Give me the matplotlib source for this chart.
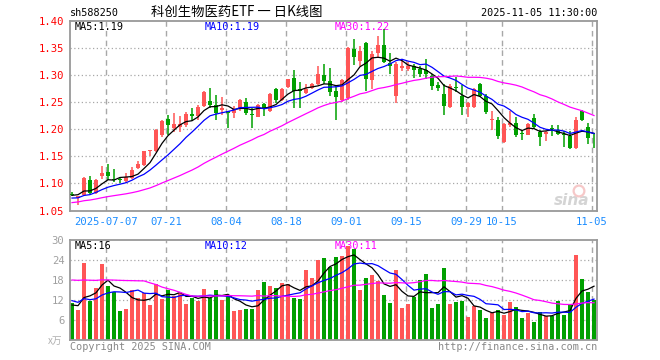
import numpy as np
import pandas as pd
import matplotlib
matplotlib.use('Agg')
import matplotlib.pyplot as plt

# daily K of sh588250, 2025-06-27 .. 2025-11-05 (88 trading days)
opens = [1.081, 1.073, 1.079, 1.107, 1.082, 1.113, 1.122, 1.109, 1.108, 1.104,
         1.110, 1.128, 1.134, 1.159, 1.160, 1.190, 1.219, 1.202, 1.204, 1.207,
         1.228, 1.224, 1.243, 1.252, 1.244, 1.236, 1.233, 1.230, 1.237, 1.250,
         1.229, 1.223, 1.246, 1.234, 1.274, 1.254, 1.278, 1.294, 1.274, 1.267,
         1.277, 1.284, 1.301, 1.290, 1.270, 1.255, 1.257, 1.349, 1.327, 1.359,
         1.291, 1.341, 1.355, 1.323, 1.262, 1.313, 1.312, 1.316, 1.311, 1.310,
         1.299, 1.282, 1.265, 1.241, 1.279, 1.262, 1.242, 1.242, 1.284, 1.262,
         1.217, 1.218, 1.177, 1.207, 1.211, 1.193, 1.190, 1.221, 1.195, 1.191,
         1.203, 1.199, 1.191, 1.187, 1.166, 1.233, 1.205, 1.177]
closes = [1.078, 1.076, 1.110, 1.083, 1.107, 1.120, 1.114, 1.107, 1.107, 1.111,
          1.125, 1.136, 1.159, 1.161, 1.198, 1.216, 1.207, 1.210, 1.210, 1.228,
          1.224, 1.242, 1.269, 1.245, 1.230, 1.240, 1.231, 1.237, 1.254, 1.231,
          1.227, 1.244, 1.239, 1.265, 1.254, 1.275, 1.292, 1.271, 1.270, 1.274,
          1.284, 1.302, 1.289, 1.268, 1.260, 1.291, 1.350, 1.333, 1.344, 1.293,
          1.339, 1.356, 1.325, 1.316, 1.321, 1.316, 1.316, 1.310, 1.302, 1.303,
          1.280, 1.276, 1.243, 1.280, 1.277, 1.242, 1.248, 1.274, 1.262, 1.232,
          1.218, 1.187, 1.209, 1.211, 1.190, 1.191, 1.210, 1.204, 1.185, 1.195,
          1.201, 1.191, 1.189, 1.166, 1.218, 1.218, 1.184, 1.176]
highs = [1.085, 1.077, 1.112, 1.114, 1.109, 1.132, 1.136, 1.126, 1.112, 1.119,
         1.130, 1.142, 1.160, 1.162, 1.200, 1.218, 1.227, 1.230, 1.224, 1.232,
         1.239, 1.244, 1.271, 1.277, 1.264, 1.260, 1.233, 1.243, 1.256, 1.257,
         1.239, 1.246, 1.249, 1.267, 1.277, 1.277, 1.293, 1.310, 1.288, 1.283,
         1.286, 1.316, 1.321, 1.313, 1.280, 1.293, 1.352, 1.367, 1.353, 1.362,
         1.344, 1.373, 1.385, 1.340, 1.325, 1.328, 1.325, 1.320, 1.316, 1.329,
         1.303, 1.287, 1.283, 1.283, 1.297, 1.282, 1.250, 1.276, 1.286, 1.265,
         1.233, 1.222, 1.212, 1.233, 1.222, 1.199, 1.212, 1.229, 1.199, 1.196,
         1.208, 1.208, 1.196, 1.196, 1.222, 1.236, 1.211, 1.193]
lows = [1.076, 1.060, 1.078, 1.081, 1.080, 1.108, 1.106, 1.102, 1.101, 1.100,
        1.108, 1.126, 1.133, 1.150, 1.158, 1.185, 1.190, 1.195, 1.195, 1.205,
        1.215, 1.218, 1.241, 1.240, 1.218, 1.227, 1.203, 1.221, 1.233, 1.226,
        1.203, 1.222, 1.225, 1.232, 1.249, 1.252, 1.277, 1.240, 1.240, 1.265,
        1.275, 1.282, 1.283, 1.262, 1.217, 1.251, 1.255, 1.319, 1.316, 1.270,
        1.274, 1.331, 1.322, 1.303, 1.249, 1.308, 1.307, 1.295, 1.296, 1.292,
        1.273, 1.271, 1.226, 1.239, 1.268, 1.227, 1.222, 1.240, 1.259, 1.228,
        1.199, 1.182, 1.175, 1.205, 1.185, 1.181, 1.189, 1.200, 1.169, 1.178,
        1.188, 1.190, 1.167, 1.164, 1.164, 1.216, 1.172, 1.165]
volumes = [11.2, 9.0, 23.2, 11.8, 15.6, 22.9, 16.2, 14.5, 8.7, 9.3,
           15.0, 12.6, 14.0, 10.5, 16.8, 12.3, 15.0, 13.3, 14.0, 10.8,
           12.6, 11.7, 15.3, 12.7, 15.0, 12.0, 13.5, 8.7, 9.0, 9.3,
           9.3, 15.0, 17.4, 16.2, 15.6, 17.1, 16.8, 12.6, 12.3, 21.0,
           18.6, 24.0, 24.6, 22.0, 25.0, 25.2, 28.2, 27.2, 15.0, 18.5,
           19.5, 17.7, 13.5, 11.2, 21.0, 9.6, 10.8, 12.8, 18.0, 19.8,
           9.6, 10.8, 21.6, 10.8, 11.5, 11.8, 6.9, 10.2, 9.0, 6.6,
           8.1, 9.0, 7.5, 11.4, 9.9, 6.6, 8.1, 5.5, 8.4, 7.2,
           7.2, 11.7, 7.5, 10.5, 25.5, 18.3, 14.4, 12.0]

# closes / volumes of the 29 sessions before the window
prior_close = [1.040, 1.042, 1.045, 1.048, 1.050, 1.052, 1.055, 1.057, 1.060, 1.062,
               1.063, 1.065, 1.066, 1.068, 1.070, 1.071, 1.072, 1.073, 1.074, 1.075,
               1.072, 1.066, 1.068, 1.065, 1.069, 1.070, 1.076, 1.082, 1.084]
prior_vol = [12, 20, 14, 17, 18, 17, 16, 11, 11, 16, 14, 15,
             28, 32, 35, 30, 27, 33, 29, 27,
             14, 12, 15, 13, 11.5, 10, 11, 9.3, 11]

date_pos = [6, 16, 26, 36, 46, 56, 66, 72, 87]
date_labels = ['2025-07-07', '07-21', '08-04', '08-18', '09-01',
               '09-15', '09-29', '10-15', '11-05']
price_ticks = [1.05, 1.10, 1.15, 1.20, 1.25, 1.30, 1.35, 1.40]
vol_ticks = [6, 12, 18, 24, 30]
ma_labels = ['MA5:1.19', 'MA10:1.19', 'MA30:1.22']
vma_labels = ['MA5:16', 'MA10:12', 'MA30:11']

RED = '#FF5656'
GREEN = '#00A000'
GRID = '#A8A8A8'
MONO = 'DejaVu Sans Mono'
MA_COLORS = ['black', '#0000FF', '#FF00FF']

n_pre = len(prior_close)
c_all = pd.Series(prior_close + closes)
v_all = pd.Series(prior_vol + volumes)
ma = [c_all.rolling(k).mean().values[n_pre:] for k in (5, 10, 30)]
vma = [v_all.rolling(k).mean().values[n_pre:] for k in (5, 10, 30)]

o = np.array(opens); c = np.array(closes)
x = np.arange(len(c))
up = c >= o
col = np.where(up, RED, GREEN)

W, H = 660, 360
fig = plt.figure(figsize=(W / 100, H / 100), dpi=100)


def px_axes(l, t, r, b):
    return fig.add_axes([l / W, 1 - b / H, (r - l) / W, (b - t) / H])


def ftext(px, py, s, **kw):
    kw.setdefault('family', MONO)
    kw.setdefault('fontsize', 7.3)
    return fig.text(px / W, 1 - py / H, s, va='center', **kw)


ax = px_axes(70, 21, 597, 210.5)
axv = px_axes(70, 240, 597, 340)

for a in (ax, axv):
    a.set_xlim(-1 / 3, 87.5)
    for s in a.spines.values():
        s.set_color('#999999')
        s.set_linewidth(1.3)
    a.tick_params(length=0)
    for p in date_pos:
        a.axvline(p - 1 / 3, color=GRID, lw=1, dashes=(4, 3), zorder=0)

# price panel
ax.set_ylim(1.05, 1.40)
for t in price_ticks[1:-1]:
    ax.axhline(t, color=GRID, lw=0.9, dashes=(1, 2), zorder=0)
ax.vlines(x, lows, highs, colors=col, lw=1.1, zorder=2)
body_lo = np.minimum(o, c)
body_h = np.maximum(np.abs(c - o), 0.0012)
ax.bar(x, body_h, bottom=body_lo, width=0.72, color=col, lw=0, zorder=3)
for m, mc in zip(ma, MA_COLORS):
    ax.plot(x, m, color=mc, lw=0.9, zorder=4)
ax.set_yticks(price_ticks)
ax.set_yticklabels(['%.2f' % t for t in price_ticks], family=MONO, fontsize=7.6, color='#FF0000')
ax.tick_params(axis='y', pad=4)
ax.set_xticks([p - 1 / 3 for p in date_pos])
ax.set_xticklabels(date_labels, family=MONO, fontsize=7.6, color='#1a8cff')
ax.tick_params(axis='x', pad=5)
ax.text(0.985, 0.055, 'sina', transform=ax.transAxes, ha='right', va='center',
        fontsize=11, fontweight='bold', style='italic', color='#D4D4D4', zorder=1)
ax.scatter([84.5], [1.086], s=60, facecolors='none', edgecolors='#F6C8C8', lw=1.6, zorder=1)

# volume panel
axv.set_ylim(0, 30)
for t in vol_ticks[:-1]:
    axv.axhline(t, color=GRID, lw=0.9, dashes=(1, 2), zorder=0)
axv.bar(x, volumes, width=0.78, color=col, lw=0, zorder=2)
for m, mc in zip(vma, MA_COLORS):
    axv.plot(x, m, color=mc, lw=0.9, zorder=3)
axv.set_yticks(vol_ticks)
axv.set_yticklabels([str(t) for t in vol_ticks], family=MONO, fontsize=7.6, color='#A0A0A0')
axv.tick_params(axis='y', pad=4)
axv.set_xticks([])

# MA legends sit under the marks, as in the original
for a, labels in ((ax, ma_labels), (axv, vma_labels)):
    for lx, s, mc in zip((5, 135, 265), labels, MA_COLORS):
        a.annotate(s, xy=(0, 1), xycoords='axes fraction', xytext=(lx * 0.72, -6 * 0.72),
                   textcoords='offset points', ha='left', va='center', family=MONO,
                   fontsize=7.3, color=mc, zorder=1)

# texts
ftext(70, 13, 'sh588250', color='black')
ftext(151, 12, '科创生物医药ETF 一 日K线图', family=['Noto Sans CJK SC', 'DejaVu Sans'],
      fontsize=9.6, color='black')
ftext(597, 13, '2025-11-05 11:30:00', ha='right', color='black')
ftext(48, 341, 'x万', family=['Noto Sans CJK SC', 'DejaVu Sans'], fontsize=7, color='#B0B0B0')
ftext(70, 347, 'Copyright 2025 SINA.COM', color='#888888')
ftext(597, 347, 'http://finance.sina.com.cn', ha='right', color='#888888')

fig.savefig('out.png', dpi=100)
